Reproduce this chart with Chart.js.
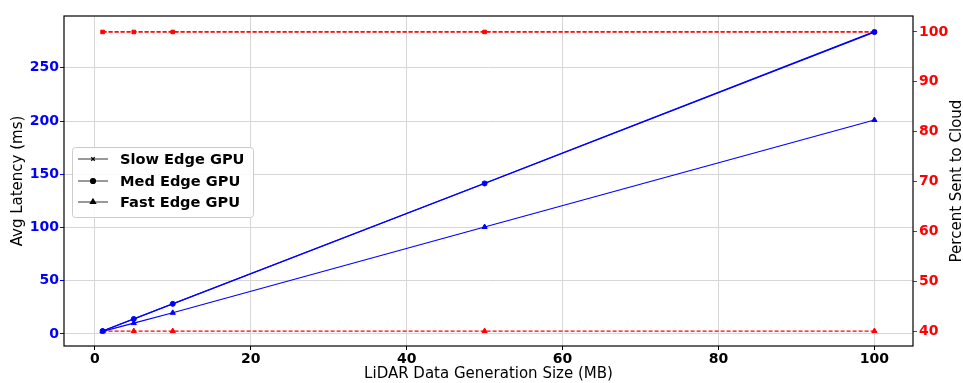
<!DOCTYPE html>
<html>
<head>
<meta charset="utf-8">
<script src="https://cdn.jsdelivr.net/npm/chart.js@4/dist/chart.umd.min.js"></script>
<style>
  html, body { margin: 0; padding: 0; background: #fff; }
  #wrap { width: 963px; height: 383px; }
</style>
</head>
<body>
<div id="wrap"><canvas id="c" width="963" height="383"></canvas></div>
<script>
// ── Data ─────────────────────────────────────────────────
const sizesMB = [1, 5, 10, 50, 100];
const slowLatency = [2.8, 14.2, 28.4, 141.6, 284.0];
const medLatency = [2.8, 14.1, 28.3, 141.4, 283.6];
const fastLatency = [2.4, 10.2, 19.9, 100.5, 201.0];
const slowPct = [100, 100, 100, 100, 100];
const medPct = [100, 100, 100, 100, 100];
const fastPct = [40, 40, 40, 40, 40];

const xTicks = [0, 20, 40, 60, 80, 100];
const latTicks = [0, 50, 100, 150, 200, 250];
const pctTicks = [40, 50, 60, 70, 80, 90, 100];
const legendNames = ["Slow Edge GPU", "Med Edge GPU", "Fast Edge GPU"];
const rightTitle = "Percent Sent to Cloud";

// ── Helpers ──────────────────────────────────────────────
const pts = (ys) => sizesMB.map((x, i) => ({ x, y: ys[i] }));
const FONT = "'DejaVu Sans', sans-serif";
const BLUE = "#0000ff";
const RED = "#ff0000";

function latSet(label, ys, style, r) {
  return {
    label, data: pts(ys), yAxisID: "y",
    borderColor: BLUE, backgroundColor: BLUE, borderWidth: 1.2,
    pointStyle: style, pointRadius: r, pointBorderWidth: 1,
    tension: 0,
  };
}
function pctSet(label, ys, style, r) {
  return {
    label, data: pts(ys), yAxisID: "y2",
    borderColor: RED, backgroundColor: RED, borderWidth: 1.2,
    borderDash: [4, 2],
    pointStyle: style, pointRadius: r, pointBorderWidth: 1,
    tension: 0,
  };
}

// Axes frame (top + right spines too) and right title reading upward
const frame = {
  id: "frame",
  afterDatasetsDraw(chart) {
    const { ctx, chartArea: a } = chart;
    ctx.save();
    ctx.strokeStyle = "#000";
    ctx.lineWidth = 1.2;
    ctx.strokeRect(a.left, a.top, a.right - a.left, a.bottom - a.top);
    ctx.translate(957, (a.top + a.bottom) / 2);
    ctx.rotate(-Math.PI / 2);
    ctx.fillStyle = "#000";
    ctx.font = "15px " + FONT;
    ctx.textAlign = "center";
    ctx.textBaseline = "middle";
    ctx.fillText(rightTitle, 0, 0);
    ctx.restore();
  },
};

// Legend box inside the plot, matplotlib-style
const innerLegend = {
  id: "innerLegend",
  afterDraw(chart) {
    const { ctx } = chart;
    const bx = 72, by = 147, bw = 181, bh = 70;
    ctx.save();
    ctx.fillStyle = "rgba(255,255,255,0.85)";
    ctx.strokeStyle = "#cccccc";
    ctx.lineWidth = 1;
    ctx.beginPath();
    ctx.roundRect(bx + 0.5, by + 0.5, bw, bh, 3);
    ctx.fill();
    ctx.stroke();
    const styles = ["crossRot", "circle", "triangle"];
    const radii = [2.5, 2.5, 3];
    const rows = [159, 181, 202];
    ctx.font = "bold 14.6px " + FONT;
    ctx.textBaseline = "middle";
    rows.forEach((y, i) => {
      ctx.strokeStyle = "#555";
      ctx.lineWidth = 1.2;
      ctx.beginPath();
      ctx.moveTo(78, y);
      ctx.lineTo(108, y);
      ctx.stroke();
      ctx.fillStyle = "#000";
      ctx.strokeStyle = "#000";
      Chart.helpers.drawPoint(ctx, { pointStyle: styles[i], radius: radii[i], borderWidth: 1 }, 93, y);
      ctx.fillStyle = "#000";
      ctx.fillText(legendNames[i], 120, y + 1);
    });
    ctx.restore();
  },
};

new Chart(document.getElementById("c"), {
  type: "line",
  data: {
    datasets: [
      latSet("Slow Edge GPU", slowLatency, "crossRot", 2.5),
      latSet("Med Edge GPU", medLatency, "circle", 2.5),
      latSet("Fast Edge GPU", fastLatency, "triangle", 3),
      pctSet("Slow Edge GPU %", slowPct, "crossRot", 2.5),
      pctSet("Med Edge GPU %", medPct, "rect", 2.5),
      pctSet("Fast Edge GPU %", fastPct, "triangle", 3),
    ],
  },
  options: {
    responsive: false,
    animation: false,
    layout: { padding: { top: 16, left: 0, right: 0, bottom: 0 } },
    plugins: { legend: { display: false }, tooltip: { enabled: false } },
    scales: {
      x: {
        type: "linear",
        min: -3.95, max: 104.95,
        afterBuildTicks: (s) => { s.ticks = xTicks.map((v) => ({ value: v })); },
        afterFit: (s) => { s.height = 37; },
        ticks: { color: "#000", font: { family: FONT, size: 14, weight: "bold" }, padding: 1 },
        grid: { color: "#d6d6d6", tickColor: "#000", tickLength: 4, lineWidth: 1 },
        border: { display: false },
        title: {
          display: true, text: "LiDAR Data Generation Size (MB)",
          color: "#000", font: { family: FONT, size: 15 }, padding: { top: 0, bottom: 0 },
        },
      },
      y: {
        position: "left",
        min: -11.3, max: 298.7,
        afterBuildTicks: (s) => { s.ticks = latTicks.map((v) => ({ value: v })); },
        afterFit: (s) => { s.width = 64; },
        ticks: { color: BLUE, font: { family: FONT, size: 14, weight: "bold" }, padding: 1 },
        grid: { color: "#d6d6d6", tickColor: BLUE, tickLength: 4, lineWidth: 1 },
        border: { display: false },
        title: {
          display: true, text: "Avg Latency (ms)",
          color: "#000", font: { family: FONT, size: 15 }, padding: { top: 9, bottom: 0 },
        },
      },
      y2: {
        position: "right",
        min: 37, max: 103.2,
        afterBuildTicks: (s) => { s.ticks = pctTicks.map((v) => ({ value: v })); },
        afterFit: (s) => { s.width = 50; },
        ticks: { color: RED, font: { family: FONT, size: 14, weight: "bold" }, padding: 2 },
        grid: { drawOnChartArea: false, tickColor: RED, tickLength: 4 },
        border: { display: false },
      },
    },
  },
  plugins: [frame, innerLegend],
});
</script>
</body>
</html>
